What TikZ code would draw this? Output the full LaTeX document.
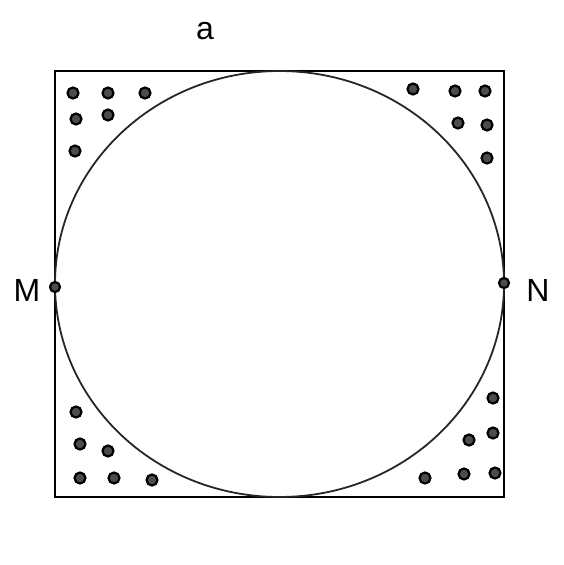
\documentclass[tikz,border=0pt]{standalone}
\usepackage{fontspec}
\setmainfont{Liberation Sans}
\begin{document}
\begin{tikzpicture}[x=1pt,y=-1pt,
  dot/.style={circle,draw=black,line width=2.2pt,fill=black!70,inner sep=0pt,minimum size=11pt},
  lbl/.style={font=\fontsize{32}{32}\selectfont,inner sep=0pt}]
\useasboundingbox (0,0) rectangle (563,565);
\draw[line width=2.4pt] (55,71) rectangle (504,497);
\draw[line width=1.8pt,black!85] (279.5,284) ellipse [x radius=224.5, y radius=213];
\node[lbl] (a) at (205,31) {a};
\node[lbl] (M) at (27,290) {M};
\node[lbl] (N) at (538,290) {N};
\node[dot,minimum size=10pt] (pm) at (55,287) {};
\node[dot,minimum size=10pt] (pn) at (504,283) {};
% top-left
\foreach \x/\y in {73/93,108/93,145/93,76/119,108/115,75/151}
  \node[dot] at (\x,\y) {};
% top-right
\foreach \x/\y in {413/89,455/91,485/91,458/123,487/125,487/158}
  \node[dot] at (\x,\y) {};
% bottom-left
\foreach \x/\y in {76/412,80/444,108/451,80/478,114/478,152/480}
  \node[dot] at (\x,\y) {};
% bottom-right
\foreach \x/\y in {493/398,493/433,469/440,495/473,464/474,425/478}
  \node[dot] at (\x,\y) {};
\end{tikzpicture}
\end{document}
